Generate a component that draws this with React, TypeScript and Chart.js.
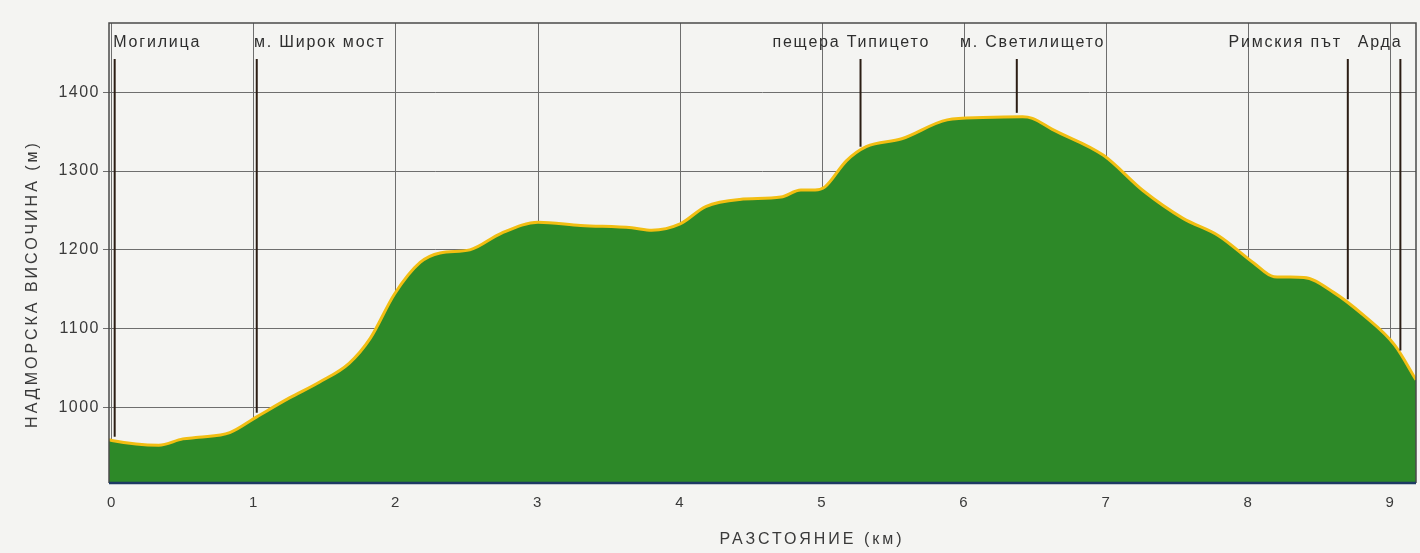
import React, { useEffect, useRef } from "react";
import { Chart, registerables } from "chart.js";

Chart.register(...registerables);

// Distance along the route (km) and elevation (m)
const km = [-0.02, 0, 0.33, 0.5, 0.61, 0.83, 1.02, 1.25, 1.46, 1.67, 1.82, 1.99, 2.17, 2.31, 2.52, 2.74, 3.0, 3.3, 3.66, 3.8, 4.0, 4.18, 4.42, 4.71, 4.85, 4.95, 5.02, 5.17, 5.31, 5.56, 5.88, 6.13, 6.41, 6.48, 6.62, 6.98, 7.26, 7.54, 7.79, 8.04, 8.18, 8.39, 8.6, 8.81, 9.03, 9.18];
const elevation = [959, 958, 952, 960, 962, 968, 988, 1012, 1032, 1056, 1088, 1144, 1184, 1196, 1200, 1221, 1235, 1231, 1228, 1225, 1233, 1255, 1264, 1267, 1276, 1276, 1280, 1313, 1331, 1341, 1365, 1368, 1369, 1367, 1353, 1320, 1275, 1240, 1218, 1183, 1166, 1165, 1146, 1117, 1079, 1035];

// Axis ticks
const xTicks = [0, 1, 2, 3, 4, 5, 6, 7, 8, 9];
const yTicks = [1000, 1100, 1200, 1300, 1400];

// Landmarks: position of the marker line, and where its label starts (km)
const markerNames = ["Могилица", "м. Широк мост", "пещера Типицето", "м. Светилището", "Римския път", "Арда"];
const markerKm = [0.02, 1.02, 5.27, 6.37, 8.7, 9.07];
const labelKm = [0.01, 1.0, 4.65, 5.97, 7.86, 8.77];

const xTitle = "РАЗСТОЯНИЕ (км)";
const yTitle = "НАДМОРСКА ВИСОЧИНА (м)";

const BG = "#f4f4f2";
const FONT = '"Liberation Sans", Arial, sans-serif';

function elevationAt(d: number): number {
  for (let i = 0; i < km.length - 1; i++) {
    if (d >= km[i] && d <= km[i + 1]) {
      const t = (d - km[i]) / (km[i + 1] - km[i]);
      return elevation[i] + t * (elevation[i + 1] - elevation[i]);
    }
  }
  return elevation[elevation.length - 1];
}

const overlay = {
  id: "overlay",
  beforeDraw(chart: any) {
    const ctx = chart.ctx;
    ctx.save();
    ctx.fillStyle = BG;
    ctx.fillRect(0, 0, chart.width, chart.height);
    ctx.restore();
    ctx.letterSpacing = "1.5px";
  },
  afterDatasetsDraw(chart: any) {
    const ctx = chart.ctx;
    const a = chart.chartArea;
    const xs = chart.scales.x;
    const ys = chart.scales.y;
    ctx.save();
    // marker lines
    ctx.strokeStyle = "#2b1d14";
    ctx.lineWidth = 2;
    markerKm.forEach((m) => {
      const x = xs.getPixelForValue(m);
      const yb = ys.getPixelForValue(elevationAt(m)) - 4;
      ctx.beginPath();
      ctx.moveTo(x, a.top + 36);
      ctx.lineTo(x, yb);
      ctx.stroke();
    });
    // frame
    ctx.strokeStyle = "#4a4a4a";
    ctx.lineWidth = 1.5;
    ctx.beginPath();
    ctx.moveTo(a.left, a.bottom);
    ctx.lineTo(a.left, a.top);
    ctx.lineTo(a.right, a.top);
    ctx.lineTo(a.right, a.bottom);
    ctx.stroke();
    ctx.strokeStyle = "#1d3a63";
    ctx.lineWidth = 2.5;
    ctx.beginPath();
    ctx.moveTo(a.left, a.bottom);
    ctx.lineTo(a.right, a.bottom);
    ctx.stroke();
    ctx.restore();
  },
  afterDraw(chart: any) {
    const ctx = chart.ctx;
    const a = chart.chartArea;
    const xs = chart.scales.x;
    ctx.save();
    ctx.fillStyle = "#2e2e2e";
    ctx.textBaseline = "middle";
    ctx.textAlign = "left";
    ctx.font = "16px " + FONT;
    ctx.letterSpacing = "1.8px";
    markerNames.forEach((n, i) => {
      ctx.fillText(n, xs.getPixelForValue(labelKm[i]), a.top + 20);
    });
    ctx.fillStyle = "#3a3a3a";
    ctx.textAlign = "center";
    ctx.font = "16px " + FONT;
    ctx.letterSpacing = "3px";
    ctx.fillText(xTitle, 812, 540);
    ctx.translate(33, 284);
    ctx.rotate(-Math.PI / 2);
    ctx.letterSpacing = "3px";
    ctx.fillText(yTitle, 0, 0);
    ctx.restore();
  },
};

export default function App() {
  const ref = useRef<HTMLCanvasElement | null>(null);
  useEffect(() => {
    document.body.style.margin = "0";
    document.body.style.background = BG;
    if (!ref.current) return;
    const chart = new Chart(ref.current, {
      type: "line",
      data: {
        datasets: [
          {
            data: km.map((d, i) => ({ x: d, y: elevation[i] })),
            borderColor: "#f2be12",
            borderWidth: 3,
            backgroundColor: "#2d8928",
            fill: "start",
            pointRadius: 0,
            cubicInterpolationMode: "monotone",
          },
        ],
      },
      options: {
        responsive: false,
        animation: false,
        layout: { padding: { top: 23, right: 4, left: 0, bottom: 0 } },
        plugins: { legend: { display: false }, tooltip: { enabled: false } },
        scales: {
          x: {
            type: "linear",
            min: -0.02,
            max: 9.18,
            afterBuildTicks: (s: any) => {
              s.ticks = xTicks.map((v) => ({ value: v }));
            },
            afterFit: (s: any) => {
              s.height = 70;
            },
            grid: { color: "#6e6e6e", lineWidth: 1, drawTicks: false },
            border: { display: false },
            ticks: {
              padding: 11,
              color: "#3a3a3a",
              font: { family: FONT, size: 15 },
              maxRotation: 0,
              callback: (v: any) => String(v),
            },
          },
          y: {
            min: 904,
            max: 1488,
            afterBuildTicks: (s: any) => {
              s.ticks = yTicks.map((v) => ({ value: v }));
            },
            afterFit: (s: any) => {
              s.width = 109;
            },
            grid: { color: "#6e6e6e", lineWidth: 1, tickLength: 6 },
            border: { display: false },
            ticks: {
              padding: 3,
              color: "#3a3a3a",
              font: { family: FONT, size: 16 },
              callback: (v: any) => String(v),
            },
          },
        },
      },
      plugins: [overlay],
    } as any);
    return () => chart.destroy();
  }, []);
  return (
    <div style={{ width: 1420, height: 553, background: BG }}>
      <canvas ref={ref} width={1420} height={553} style={{ display: "block" }} />
    </div>
  );
}
